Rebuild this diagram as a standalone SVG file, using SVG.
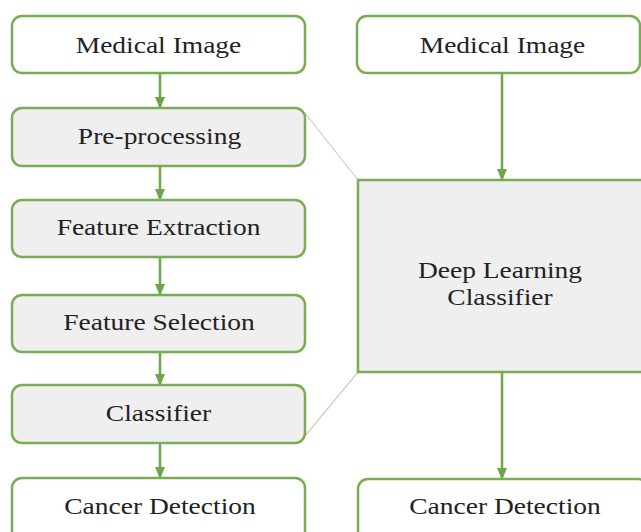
<svg xmlns="http://www.w3.org/2000/svg" width="641" height="532" viewBox="0 0 641 532">
<defs>
<style>
.box{stroke:#79ad55;stroke-width:2.5;}
.w{fill:#ffffff;}
.g{fill:#efefef;}
.t{font-family:"Liberation Serif","Times New Roman",serif;font-size:23.5px;fill:#222222;text-anchor:middle;}
.arr{stroke:#6ea64a;stroke-width:2.5;fill:none;marker-end:url(#ah);}
.diag{stroke:#cfcfc0;stroke-width:1.2;fill:none;}
</style>
<marker id="ah" markerWidth="12" markerHeight="10" refX="11" refY="5" orient="auto" markerUnits="userSpaceOnUse">
<path d="M0,0 L12,5 L0,10 Z" fill="#6ea64a"/>
</marker>
</defs>
<rect width="641" height="532" fill="#ffffff"/>
<g id="connectors">
<line class="diag" x1="305" y1="113" x2="358" y2="180"/>
<line class="diag" x1="305" y1="436" x2="358" y2="372"/>
<line class="arr" x1="160" y1="73" x2="160" y2="108"/>
<line class="arr" x1="160" y1="166" x2="160" y2="200"/>
<line class="arr" x1="160" y1="257" x2="160" y2="295"/>
<line class="arr" x1="160" y1="352" x2="160" y2="385"/>
<line class="arr" x1="160" y1="443" x2="160" y2="478"/>
<line class="arr" x1="502" y1="73" x2="502" y2="180"/>
<line class="arr" x1="502" y1="372" x2="502" y2="479"/>
</g>
<g id="l-medical">
<rect class="box w" x="12" y="16" width="293" height="57" rx="10"/>
<text class="t" transform="translate(158.5,53) scale(1.17,1)">Medical Image</text>
</g>
<g id="l-pre">
<rect class="box g" x="12" y="108" width="293" height="58" rx="10"/>
<text class="t" transform="translate(159.5,144) scale(1.17,1)">Pre-processing</text>
</g>
<g id="l-fe">
<rect class="box g" x="12" y="200" width="293" height="57" rx="10"/>
<text class="t" transform="translate(158.5,235) scale(1.17,1)">Feature Extraction</text>
</g>
<g id="l-fs">
<rect class="box g" x="12" y="295" width="293" height="57" rx="10"/>
<text class="t" transform="translate(159,330) scale(1.17,1)">Feature Selection</text>
</g>
<g id="l-cls">
<rect class="box g" x="12" y="385" width="293" height="58" rx="10"/>
<text class="t" transform="translate(158.5,421) scale(1.17,1)">Classifier</text>
</g>
<g id="l-cd">
<rect class="box w" x="12" y="478" width="293" height="70" rx="10"/>
<text class="t" transform="translate(160,514) scale(1.17,1)">Cancer Detection</text>
</g>
<g id="r-medical">
<rect class="box w" x="357" y="16" width="283" height="57" rx="10"/>
<text class="t" transform="translate(502.5,53) scale(1.17,1)">Medical Image</text>
</g>
<g id="r-dl">
<rect class="box g" x="358" y="180" width="290" height="192"/>
<text class="t" transform="translate(500,278) scale(1.17,1)">Deep Learning</text>
<text class="t" transform="translate(500,305) scale(1.17,1)">Classifier</text>
</g>
<g id="r-cd">
<rect class="box w" x="358" y="479" width="290" height="70" rx="10"/>
<text class="t" transform="translate(505,514) scale(1.17,1)">Cancer Detection</text>
</g>
</svg>
